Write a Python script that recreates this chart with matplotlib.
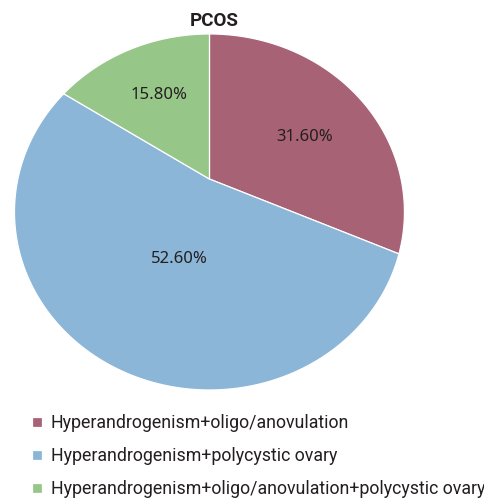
import matplotlib.pyplot as plt
import numpy as np
from matplotlib.path import Path
from matplotlib.transforms import Transform

labels = ['Hyperandrogenism+oligo/anovulation',
          'Hyperandrogenism+polycystic ovary',
          'Hyperandrogenism+oligo/anovulation+polycystic ovary']
values = [31.6, 52.6, 15.8]
colors = ['#A86276', '#8BB6D8', '#97C689']


class TiltTransform(Transform):
    # projective map that keeps the unit circle but moves its centre up,
    # gives the "seen from a tilt" look of the original pie
    input_dims = 2
    output_dims = 2

    def __init__(self, c):
        super().__init__()
        self.c = c

    def transform_non_affine(self, values):
        v = np.asarray(values, dtype=float)
        x, y = v[:, 0], v[:, 1]
        d = 1 + self.c * y
        return np.column_stack([x * np.sqrt(1 - self.c ** 2) / d, (y + self.c) / d])

    def transform_path_non_affine(self, path):
        # sample the bezier pieces so the curves stay right after the mapping
        pts = []
        for seg, code in path.iter_bezier():
            if code == Path.MOVETO:
                pts.append(seg.control_points)
            else:
                pts.append(seg(np.linspace(0, 1, 40)))
        return Path(self.transform_non_affine(np.vstack(pts)))


plt.rcParams['font.family'] = ['Noto Sans', 'DejaVu Sans']

fig = plt.figure(figsize=(4.85, 4.98), dpi=100)
# axes box sized so the pie comes out slightly oval like the reference
ax = fig.add_axes([0.0299, 0.2169, 0.804, 0.7149])

wedges, texts, autotexts = ax.pie(values, colors=colors, startangle=90, counterclock=False,
                                  autopct=lambda p: f'{p:.2f}%',
                                  wedgeprops=dict(edgecolor='white', linewidth=0.9),
                                  textprops=dict(color='#231F20', fontsize=12))
ax.set_aspect('auto')
ax.set_xlim(-1, 1)
ax.set_ylim(-1, 1)

tilt = TiltTransform(0.185)
for w in wedges:
    w.set_transform(tilt + ax.transData)

# percent labels: distance from centre / small turn per wedge
label_dist = [0.58, 0.45, 0.61]
label_turn = [-7, 10, 0]
for w, t, d, turn in zip(wedges, autotexts, label_dist, label_turn):
    ang = np.deg2rad((w.theta1 + w.theta2) / 2 + turn)
    t.set_position((d * np.cos(ang), d * np.sin(ang)))
    t.set_transform(tilt + ax.transData)

fig.text(0.442, 0.948, 'PCOS', ha='center', va='baseline', fontsize=13.5, fontweight='bold',
         family=['Roboto', 'DejaVu Sans'], color='#231F20')

fig.legend(wedges, labels, loc='upper left', bbox_to_anchor=(0.066, 0.168),
           frameon=False, handlelength=0.55, handleheight=0.55,
           handletextpad=0.5, labelspacing=0.84, borderpad=0, borderaxespad=0,
           labelcolor='#231F20', prop=dict(family=['Roboto', 'DejaVu Sans'], size=12.8))

fig.savefig('out.png', dpi=100)
